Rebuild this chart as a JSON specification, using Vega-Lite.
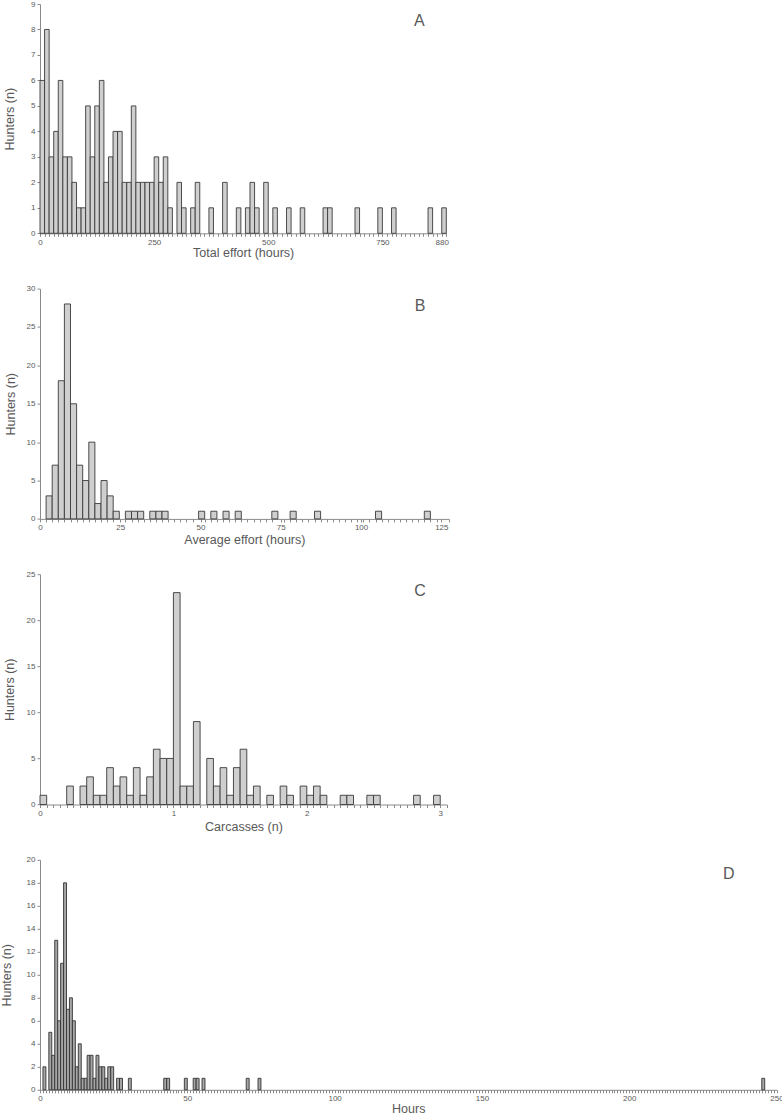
{
  "$schema": "https://vega.github.io/schema/vega-lite/v6.json",
  "background": "white",
  "padding": {"left": 0, "top": 0, "right": 5, "bottom": 0},
  "bounds": "flush",
  "spacing": 54.6,
  "config": {
    "view": {"stroke": null},
    "font": "Liberation Sans",
    "axis": {
      "labelFont": "Liberation Sans", "labelFontSize": 8, "labelColor": "#595959",
      "titleFont": "Liberation Sans", "titleFontSize": 12.5, "titleFontWeight": "normal", "titleColor": "#595959",
      "domainColor": "#8a8a8a", "tickColor": "#8a8a8a", "tickSize": 3, "labelPadding": 2, "grid": false,
      "labelOverlap": false, "labelFlush": false
    },
    "title": {"font": "Liberation Sans", "fontSize": 16, "fontWeight": "normal", "color": "#595959", "anchor": "end", "frame": "group", "offset": 0, "baseline": "alphabetic"}
  },
  "datasets": {
    "totalEffort": [
      {"lo": 0, "hi": 10, "n": 6}, {"lo": 10, "hi": 20, "n": 8}, {"lo": 20, "hi": 30, "n": 3}, {"lo": 30, "hi": 40, "n": 4},
      {"lo": 40, "hi": 50, "n": 6}, {"lo": 50, "hi": 60, "n": 3}, {"lo": 60, "hi": 70, "n": 3}, {"lo": 70, "hi": 80, "n": 2},
      {"lo": 80, "hi": 90, "n": 1}, {"lo": 90, "hi": 100, "n": 1}, {"lo": 100, "hi": 110, "n": 5}, {"lo": 110, "hi": 120, "n": 3},
      {"lo": 120, "hi": 130, "n": 5}, {"lo": 130, "hi": 140, "n": 6}, {"lo": 140, "hi": 150, "n": 2}, {"lo": 150, "hi": 160, "n": 3},
      {"lo": 160, "hi": 170, "n": 4}, {"lo": 170, "hi": 180, "n": 4}, {"lo": 180, "hi": 190, "n": 2}, {"lo": 190, "hi": 200, "n": 2},
      {"lo": 200, "hi": 210, "n": 5}, {"lo": 210, "hi": 220, "n": 2}, {"lo": 220, "hi": 230, "n": 2}, {"lo": 230, "hi": 240, "n": 2},
      {"lo": 240, "hi": 250, "n": 2}, {"lo": 250, "hi": 260, "n": 3}, {"lo": 260, "hi": 270, "n": 2}, {"lo": 270, "hi": 280, "n": 3},
      {"lo": 280, "hi": 290, "n": 1}, {"lo": 300, "hi": 310, "n": 2}, {"lo": 310, "hi": 320, "n": 1}, {"lo": 330, "hi": 340, "n": 1},
      {"lo": 340, "hi": 350, "n": 2}, {"lo": 370, "hi": 380, "n": 1}, {"lo": 400, "hi": 410, "n": 2}, {"lo": 430, "hi": 440, "n": 1},
      {"lo": 450, "hi": 460, "n": 1}, {"lo": 460, "hi": 470, "n": 2}, {"lo": 470, "hi": 480, "n": 1}, {"lo": 490, "hi": 500, "n": 2},
      {"lo": 510, "hi": 520, "n": 1}, {"lo": 540, "hi": 550, "n": 1}, {"lo": 570, "hi": 580, "n": 1}, {"lo": 620, "hi": 630, "n": 1},
      {"lo": 630, "hi": 640, "n": 1}, {"lo": 690, "hi": 700, "n": 1}, {"lo": 740, "hi": 750, "n": 1}, {"lo": 770, "hi": 780, "n": 1},
      {"lo": 850, "hi": 860, "n": 1}, {"lo": 880, "hi": 890, "n": 1}
    ],
    "averageEffort": [
      {"lo": 1.9, "hi": 3.8, "n": 3}, {"lo": 3.8, "hi": 5.7, "n": 7}, {"lo": 5.7, "hi": 7.6, "n": 18}, {"lo": 7.6, "hi": 9.5, "n": 28},
      {"lo": 9.5, "hi": 11.4, "n": 15}, {"lo": 11.4, "hi": 13.3, "n": 7}, {"lo": 13.3, "hi": 15.2, "n": 5}, {"lo": 15.2, "hi": 17.1, "n": 10},
      {"lo": 17.1, "hi": 19.0, "n": 2}, {"lo": 19.0, "hi": 20.9, "n": 5}, {"lo": 20.9, "hi": 22.8, "n": 3}, {"lo": 22.8, "hi": 24.7, "n": 1},
      {"lo": 26.6, "hi": 28.5, "n": 1}, {"lo": 28.5, "hi": 30.4, "n": 1}, {"lo": 30.4, "hi": 32.3, "n": 1}, {"lo": 34.2, "hi": 36.1, "n": 1},
      {"lo": 36.1, "hi": 38.0, "n": 1}, {"lo": 38.0, "hi": 39.9, "n": 1}, {"lo": 49.4, "hi": 51.3, "n": 1}, {"lo": 53.2, "hi": 55.1, "n": 1},
      {"lo": 57.0, "hi": 58.9, "n": 1}, {"lo": 60.8, "hi": 62.7, "n": 1}, {"lo": 72.2, "hi": 74.1, "n": 1}, {"lo": 77.9, "hi": 79.8, "n": 1},
      {"lo": 85.5, "hi": 87.4, "n": 1}, {"lo": 104.5, "hi": 106.4, "n": 1}, {"lo": 119.7, "hi": 121.6, "n": 1}
    ],
    "carcasses": [
      {"lo": 0.00, "hi": 0.05, "n": 1}, {"lo": 0.20, "hi": 0.25, "n": 2}, {"lo": 0.30, "hi": 0.35, "n": 2}, {"lo": 0.35, "hi": 0.40, "n": 3},
      {"lo": 0.40, "hi": 0.45, "n": 1}, {"lo": 0.45, "hi": 0.50, "n": 1}, {"lo": 0.50, "hi": 0.55, "n": 4}, {"lo": 0.55, "hi": 0.60, "n": 2},
      {"lo": 0.60, "hi": 0.65, "n": 3}, {"lo": 0.65, "hi": 0.70, "n": 1}, {"lo": 0.70, "hi": 0.75, "n": 4}, {"lo": 0.75, "hi": 0.80, "n": 1},
      {"lo": 0.80, "hi": 0.85, "n": 3}, {"lo": 0.85, "hi": 0.90, "n": 6}, {"lo": 0.90, "hi": 0.95, "n": 5}, {"lo": 0.95, "hi": 1.00, "n": 5},
      {"lo": 1.00, "hi": 1.05, "n": 23}, {"lo": 1.05, "hi": 1.10, "n": 2}, {"lo": 1.10, "hi": 1.15, "n": 2}, {"lo": 1.15, "hi": 1.20, "n": 9},
      {"lo": 1.25, "hi": 1.30, "n": 5}, {"lo": 1.30, "hi": 1.35, "n": 2}, {"lo": 1.35, "hi": 1.40, "n": 4}, {"lo": 1.40, "hi": 1.45, "n": 1},
      {"lo": 1.45, "hi": 1.50, "n": 4}, {"lo": 1.50, "hi": 1.55, "n": 6}, {"lo": 1.55, "hi": 1.60, "n": 1}, {"lo": 1.60, "hi": 1.65, "n": 2},
      {"lo": 1.70, "hi": 1.75, "n": 1}, {"lo": 1.80, "hi": 1.85, "n": 2}, {"lo": 1.85, "hi": 1.90, "n": 1}, {"lo": 1.95, "hi": 2.00, "n": 2},
      {"lo": 2.00, "hi": 2.05, "n": 1}, {"lo": 2.05, "hi": 2.10, "n": 2}, {"lo": 2.10, "hi": 2.15, "n": 1}, {"lo": 2.25, "hi": 2.30, "n": 1},
      {"lo": 2.30, "hi": 2.35, "n": 1}, {"lo": 2.45, "hi": 2.50, "n": 1}, {"lo": 2.50, "hi": 2.55, "n": 1}, {"lo": 2.80, "hi": 2.85, "n": 1},
      {"lo": 2.95, "hi": 3.00, "n": 1}
    ],
    "hours": [
      {"lo": 1, "hi": 2, "n": 2}, {"lo": 3, "hi": 4, "n": 5}, {"lo": 4, "hi": 5, "n": 3}, {"lo": 5, "hi": 6, "n": 13},
      {"lo": 6, "hi": 7, "n": 6}, {"lo": 7, "hi": 8, "n": 11}, {"lo": 8, "hi": 9, "n": 18}, {"lo": 9, "hi": 10, "n": 7},
      {"lo": 10, "hi": 11, "n": 8}, {"lo": 11, "hi": 12, "n": 6}, {"lo": 12, "hi": 13, "n": 2}, {"lo": 13, "hi": 14, "n": 4},
      {"lo": 14, "hi": 15, "n": 1}, {"lo": 15, "hi": 16, "n": 1}, {"lo": 16, "hi": 17, "n": 3}, {"lo": 17, "hi": 18, "n": 3},
      {"lo": 18, "hi": 19, "n": 1}, {"lo": 19, "hi": 20, "n": 3}, {"lo": 20, "hi": 21, "n": 2}, {"lo": 21, "hi": 22, "n": 2},
      {"lo": 22, "hi": 23, "n": 1}, {"lo": 23, "hi": 24, "n": 2}, {"lo": 24, "hi": 25, "n": 2}, {"lo": 26, "hi": 27, "n": 1},
      {"lo": 27, "hi": 28, "n": 1}, {"lo": 30, "hi": 31, "n": 1}, {"lo": 42, "hi": 43, "n": 1}, {"lo": 43, "hi": 44, "n": 1},
      {"lo": 49, "hi": 50, "n": 1}, {"lo": 52, "hi": 53, "n": 1}, {"lo": 53, "hi": 54, "n": 1}, {"lo": 55, "hi": 56, "n": 1},
      {"lo": 70, "hi": 71, "n": 1}, {"lo": 74, "hi": 75, "n": 1}, {"lo": 245, "hi": 246, "n": 1}
    ]
  },
  "vconcat": [
    {
      "width": 406.3, "height": 229.3,
      "title": {"text": "A", "dx": -21.6, "dy": 33.3},
      "data": {"name": "totalEffort"},
      "mark": {"type": "bar", "fill": "#cfcfcf", "stroke": "#3a3a3a", "strokeWidth": 0.9},
      "encoding": {
        "x": {"field": "lo", "type": "quantitative", "scale": {"domain": [0, 890], "nice": false, "zero": false},
              "axis": {"title": "Total effort (hours)", "tickCount": 89, "titlePadding": 0,
                       "labelExpr": "indexof([0,250,500,750,880], datum.value) >= 0 ? datum.label : ''"}},
        "x2": {"field": "hi"},
        "y": {"field": "n", "type": "quantitative", "scale": {"domain": [0, 9], "nice": false},
              "axis": {"values": [0,1,2,3,4,5,6,7,8,9], "title": "Hunters (n)", "titleX": -24}},
        "y2": {"datum": 0}
      }
    },
    {
      "width": 408.7, "height": 230.3,
      "title": {"text": "B", "dx": -23.3, "dy": 33.3},
      "data": {"name": "averageEffort"},
      "mark": {"type": "bar", "fill": "#cfcfcf", "stroke": "#3a3a3a", "strokeWidth": 0.9},
      "encoding": {
        "x": {"field": "lo", "type": "quantitative", "scale": {"domain": [0, 127.3], "nice": false, "zero": false},
              "axis": {"title": "Average effort (hours)", "titlePadding": 2,
                       "values": [0,1.9,3.8,5.7,7.6,9.5,11.4,13.3,15.2,17.1,19,20.9,22.8,25,26.6,28.5,30.4,32.3,34.2,36.1,38,39.9,41.8,43.7,45.6,47.5,50,51.3,53.2,55.1,57,58.9,60.8,62.7,64.6,66.5,68.4,70.3,72.2,75,76,77.9,79.8,81.7,83.6,85.5,87.4,89.3,91.2,93.1,95,96.9,98.8,100,100.7,102.6,104.5,106.4,108.3,110.2,112.1,114,115.9,117.8,119.7,121.6,123.5,125,127.3],
                       "labelExpr": "indexof([0,25,50,75,100,125], datum.value) >= 0 ? datum.label : ''"}},
        "x2": {"field": "hi"},
        "y": {"field": "n", "type": "quantitative", "scale": {"domain": [0, 30], "nice": false},
              "axis": {"values": [0,5,10,15,20,25,30], "title": "Hunters (n)", "titleX": -22.8}},
        "y2": {"datum": 0}
      }
    },
    {
      "width": 406.9, "height": 230.3,
      "title": {"text": "C", "dx": -21, "dy": 33},
      "data": {"name": "carcasses"},
      "mark": {"type": "bar", "fill": "#cfcfcf", "stroke": "#3a3a3a", "strokeWidth": 0.9},
      "encoding": {
        "x": {"field": "lo", "type": "quantitative", "scale": {"domain": [0, 3.05], "nice": false, "zero": false},
              "axis": {"title": "Carcasses (n)", "tickCount": 61, "titlePadding": 3,
                       "labelExpr": "abs(datum.value - round(datum.value)) < 0.001 ? format(datum.value, 'd') : ''"}},
        "x2": {"field": "hi"},
        "y": {"field": "n", "type": "quantitative", "scale": {"domain": [0, 25], "nice": false},
              "axis": {"values": [0,5,10,15,20,25], "title": "Hunters (n)", "titleX": -23.3}},
        "y2": {"datum": 0}
      }
    },
    {
      "width": 736.5, "height": 230,
      "title": {"text": "D", "dx": -42, "dy": 30.5},
      "data": {"name": "hours"},
      "mark": {"type": "bar", "fill": "#a6a6a6", "stroke": "#333333", "strokeWidth": 0.9},
      "encoding": {
        "x": {"field": "lo", "type": "quantitative", "scale": {"domain": [0, 250], "nice": false, "zero": false},
              "axis": {"title": "Hours", "tickCount": 250, "titlePadding": 0,
                       "labelExpr": "datum.value % 50 == 0 ? datum.label : ''"}},
        "x2": {"field": "hi"},
        "y": {"field": "n", "type": "quantitative", "scale": {"domain": [0, 20], "nice": false},
              "axis": {"values": [0,2,4,6,8,10,12,14,16,18,20], "title": "Hunters (n)", "titleX": -26.8}},
        "y2": {"datum": 0}
      }
    }
  ]
}
